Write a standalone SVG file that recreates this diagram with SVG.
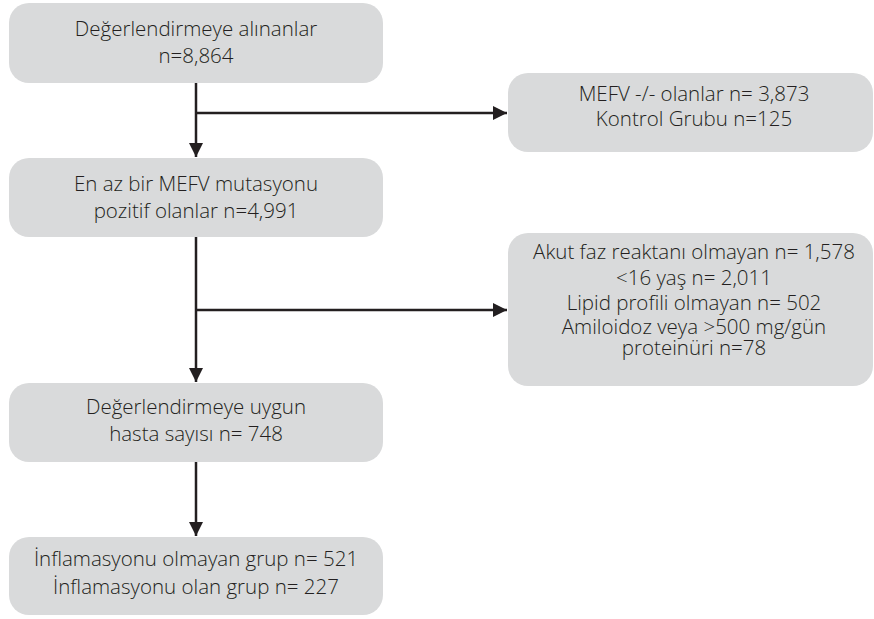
<svg xmlns="http://www.w3.org/2000/svg" width="874" height="619" viewBox="0 0 874 619">
<defs>
<style>
.box{fill:#d9dadb;}
.t{font-family:"Open Sans","Noto Sans","Liberation Sans",sans-serif;font-size:20.5px;font-weight:300;fill:#231f20;text-anchor:middle;}
.ln{stroke:#231f20;stroke-width:2.5;fill:none;}
</style>
<marker id="ah" viewBox="0 0 10 10" refX="10" refY="5" markerUnits="userSpaceOnUse" markerWidth="15" markerHeight="14" orient="auto">
<path d="M0,0 L10,5 L0,10 Z" fill="#231f20"/>
</marker>
</defs>
<rect width="874" height="619" fill="#ffffff"/>
<g id="connectors">
<line class="ln" x1="196" y1="83" x2="196" y2="157" marker-end="url(#ah)"/>
<line class="ln" x1="196" y1="113" x2="507" y2="113" marker-end="url(#ah)"/>
<line class="ln" x1="196" y1="237" x2="196" y2="382" marker-end="url(#ah)"/>
<line class="ln" x1="196" y1="310" x2="507" y2="310" marker-end="url(#ah)"/>
<line class="ln" x1="196" y1="462" x2="196" y2="536" marker-end="url(#ah)"/>
</g>
<g id="n1">
<rect class="box" x="9" y="3" width="374" height="80" rx="20"/>
<text class="t" x="196" y="36">Değerlendirmeye alınanlar</text>
<text class="t" x="196" y="63">n=8,864</text>
</g>
<g id="n2">
<rect class="box" x="508" y="73" width="365" height="79" rx="20"/>
<text class="t" x="694" y="101">MEFV -/- olanlar n= 3,873</text>
<text class="t" x="694" y="126">Kontrol Grubu n=125</text>
</g>
<g id="n3">
<rect class="box" x="9" y="158" width="374" height="79" rx="20"/>
<text class="t" x="196" y="191">En az bir MEFV mutasyonu</text>
<text class="t" x="196" y="218">pozitif olanlar n=4,991</text>
</g>
<g id="n4">
<rect class="box" x="508" y="233" width="365" height="153" rx="20"/>
<text class="t" x="694" y="259">Akut faz reaktanı olmayan n= 1,578</text>
<text class="t" x="694" y="285">&lt;16 yaş n= 2,011</text>
<text class="t" x="694" y="310">Lipid profili olmayan n= 502</text>
<text class="t" x="694" y="334">Amiloidoz veya &gt;500 mg/gün</text>
<text class="t" x="694" y="355">proteinüri n=78</text>
</g>
<g id="n5">
<rect class="box" x="9" y="383" width="374" height="79" rx="20"/>
<text class="t" x="196" y="414">Değerlendirmeye uygun</text>
<text class="t" x="196" y="441">hasta sayısı n= 748</text>
</g>
<g id="n6">
<rect class="box" x="9" y="537" width="374" height="78" rx="20"/>
<text class="t" x="196" y="566">İnflamasyonu olmayan grup n= 521</text>
<text class="t" x="196" y="594">İnflamasyonu olan grup n= 227</text>
</g>
</svg>
